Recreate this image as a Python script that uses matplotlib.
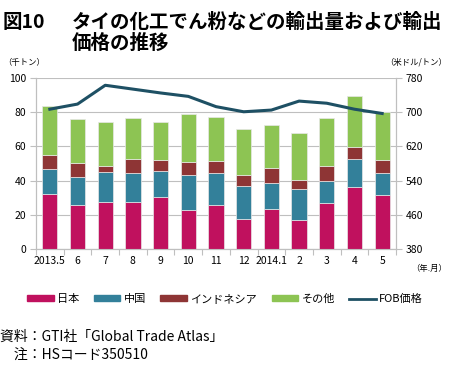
import matplotlib
matplotlib.use("Agg")
import matplotlib.pyplot as plt
from matplotlib.patches import Patch
from matplotlib.lines import Line2D
import numpy as np

plt.rcParams['font.family'] = ['Noto Sans CJK JP', 'DejaVu Sans']

months = ["2013.5", "6", "7", "8", "9", "10", "11", "12", "2014.1", "2", "3", "4", "5"]
japan = [32.3, 25.9, 27.7, 27.7, 30.6, 23.0, 25.5, 17.7, 23.4, 16.8, 26.7, 36.1, 31.4]
china_top = [46.6, 42.3, 44.8, 44.3, 45.6, 43.5, 44.6, 37.0, 38.8, 35.1, 39.9, 52.8, 44.3]
indo_top = [55.1, 50.3, 48.5, 52.8, 52.2, 51.1, 51.6, 43.5, 47.2, 40.5, 48.7, 59.8, 52.2]
total = [83.6, 76.0, 74.1, 76.6, 74.5, 79.1, 77.4, 70.2, 72.5, 68.0, 76.6, 89.7, 80.0]
fob_price = [707, 719, 763, 754, 745, 737, 713, 701, 705, 726, 721, 707, 697]

china = [c - j for c, j in zip(china_top, japan)]
indo = [i - c for i, c in zip(indo_top, china_top)]
other = [t - i for t, i in zip(total, indo_top)]

c_jp = "#C0115E"
c_cn = "#33809A"
c_id = "#8E3535"
c_ot = "#8DC453"
c_ln = "#1E5064"
grid_c = "#BFBFBF"

fig = plt.figure(figsize=(4.5, 3.65), dpi=100)
ax = fig.add_axes([36/450, 1-249/365, (396-36)/450, (249-78)/365])
x = np.arange(len(months))
w = 0.55
ec = dict(edgecolor="#e8e8e8", linewidth=0.5)
ax.bar(x, japan, w, color=c_jp, **ec, zorder=3)
ax.bar(x, china, w, bottom=japan, color=c_cn, **ec, zorder=3)
ax.bar(x, indo, w, bottom=china_top, color=c_id, **ec, zorder=3)
ax.bar(x, other, w, bottom=indo_top, color=c_ot, **ec, zorder=3)

ax.set_xlim(-0.5, len(months) - 0.5)
ax.set_ylim(0, 100)
ax.set_yticks(range(0, 101, 20))
ax.yaxis.grid(True, color=grid_c, linewidth=0.8, zorder=0)
ax.set_axisbelow(True)
ax.set_xticks(np.arange(-0.5, len(months), 1))
ax.set_xticklabels([])
ax.set_xticks(x, minor=True)
ax.set_xticklabels(months, minor=True, fontsize=7.5)
ax.tick_params(axis='x', which='major', length=4, color=grid_c)
ax.tick_params(axis='x', which='minor', length=0, pad=5)
ax.tick_params(axis='y', length=4, color=grid_c, labelsize=7.5, pad=3)
for s in ["left", "right", "bottom"]:
    ax.spines[s].set_color(grid_c)
ax.spines["top"].set_visible(False)

ax2 = ax.twinx()
ax2.plot(x, fob_price, color=c_ln, linewidth=2.2, zorder=5)
ax2.set_ylim(380, 780)
ax2.set_yticks(range(380, 781, 80))
ax2.tick_params(axis='y', length=4, color=grid_c, labelsize=7.5, pad=3)
for s in ["left", "right", "bottom"]:
    ax2.spines[s].set_color(grid_c)
ax2.spines["top"].set_visible(False)

fig.text(3/450, 1-22/365, "図10", fontsize=14, fontweight='bold', va='center', ha='left')
fig.text(72/450, 1-22/365, "タイの化工でん粉などの輸出量および輸出", fontsize=14, fontweight='bold', va='center', ha='left')
fig.text(72/450, 1-43/365, "価格の推移", fontsize=14, fontweight='bold', va='center', ha='left')

fig.text(3/450, 1-62/365, "（千トン）", fontsize=6, va='center', ha='left')
fig.text(447/450, 1-62/365, "（米ドル/トン）", fontsize=6, va='center', ha='right')
fig.text(447/450, 1-268/365, "（年.月）", fontsize=6, va='center', ha='right')

handles = [Patch(color=c_jp), Patch(color=c_cn), Patch(color=c_id), Patch(color=c_ot),
           Line2D([0], [0], color=c_ln, linewidth=2)]
labels = ["日本", "中国", "インドネシア", "その他", "FOB価格"]
fig.legend(handles, labels, loc='center', bbox_to_anchor=(0.5, 1-299/365), ncol=5,
           frameon=False, fontsize=8, handlelength=2.4, handleheight=0.5,
           handletextpad=0.3, columnspacing=1.3)

fig.text(0/450, 1-337/365, "資料：GTI社「Global Trade Atlas」", fontsize=10, va='center', ha='left')
fig.text(0/450, 1-355/365, "　注：HSコード350510", fontsize=10, va='center', ha='left')

fig.savefig("out.png", dpi=100)
